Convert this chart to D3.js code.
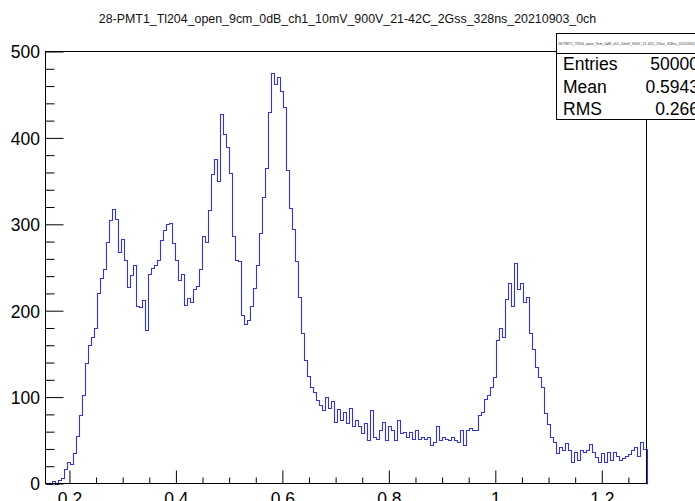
<!DOCTYPE html>
<html>
<head>
<meta charset="utf-8">
<script src="https://cdn.jsdelivr.net/npm/d3@7"></script>
<style>
  body { margin: 0; background: #fff; }
  svg { display: block; font-family: "Liberation Sans", Arial, sans-serif; }
</style>
</head>
<body>
<svg width="695" height="501"></svg>
<script>
const title = "28-PMT1_Tl204_open_9cm_0dB_ch1_10mV_900V_21-42C_2Gss_328ns_20210903_0ch";

// histogram: 200 equal bins between xRange[0] and xRange[1]
const xRange = [0.155, 1.284];
const counts = [
  0, 0, 3, 0, 4, 6, 17, 25, 23, 35,
  55, 79, 102, 139, 160, 170, 180, 220, 238, 248,
  280, 305, 318, 306, 268, 283, 259, 228, 241, 253,
  206, 204, 212, 178, 243, 249, 253, 259, 282, 293,
  300, 301, 278, 259, 236, 243, 207, 215, 210, 225,
  229, 248, 286, 280, 317, 358, 376, 350, 428, 405,
  390, 359, 286, 259, 257, 195, 185, 189, 205, 226,
  253, 290, 332, 365, 430, 475, 462, 470, 454, 436,
  363, 319, 295, 257, 216, 174, 143, 125, 112, 106,
  97, 91, 85, 100, 87, 96, 71, 86, 73, 83,
  70, 87, 67, 73, 67, 58, 70, 50, 85, 54,
  52, 62, 71, 50, 67, 62, 50, 73, 58, 60,
  54, 60, 52, 62, 52, 54, 52, 54, 44, 48,
  66, 50, 54, 52, 50, 54, 50, 48, 62, 44,
  62, 64, 62, 62, 79, 83, 98, 103, 112, 123,
  166, 180, 169, 214, 232, 205, 255, 225, 232, 210,
  216, 174, 156, 135, 123, 112, 82, 69, 54, 48,
  35, 42, 39, 47, 39, 25, 37, 27, 39, 37,
  39, 46, 37, 31, 25, 35, 25, 37, 27, 36,
  32, 27, 29, 32, 34, 39, 42, 32, 48, 40
];

const yMax = 500;
const xMajorTicks = [0.2, 0.4, 0.6, 0.8, 1.0, 1.2];
const xTickLabels = ["0.2", "0.4", "0.6", "0.8", "1", "1.2"];
const yMajorTicks = [0, 100, 200, 300, 400, 500];
const yTickLabels = ["0", "100", "200", "300", "400", "500"];

const statNames = ["Entries", "Mean", "RMS"];
const statValues = ["50000", "0.5943", "0.266"];

const svg = d3.select("svg");
const frame = { left: 45.5, right: 646.5, top: 51.5, bottom: 483.5 };

const x = d3.scaleLinear().domain(xRange).range([frame.left, frame.right]);
const y = d3.scaleLinear().domain([0, yMax]).range([frame.bottom, frame.top]);

// title
svg.append("text")
  .attr("x", 347.5)
  .attr("y", 23)
  .attr("text-anchor", "middle")
  .attr("font-size", 12.4)
  .attr("fill", "#111")
  .text(title);

// histogram outline
const binWidth = (xRange[1] - xRange[0]) / counts.length;
const pts = [[xRange[0], 0]];
counts.forEach((c, i) => pts.push([xRange[0] + i * binWidth, c]));
pts.push([xRange[1], counts[counts.length - 1]]);
pts.push([xRange[1], 0]);

const line = d3.line()
  .x((d) => Math.round(x(d[0])) + 0.5)
  .y((d) => Math.round(y(d[1])) + 0.5)
  .curve(d3.curveStepAfter);

svg.append("path")
  .attr("d", line(pts))
  .attr("fill", "none")
  .attr("stroke", "#3535c8")
  .attr("stroke-width", 1.1);

// axes: ticks point inward like ROOT
const xMinor = d3.range(0.2, 1.2501, 0.05).filter((v) => !xMajorTicks.some((m) => Math.abs(m - v) < 1e-6));
const yMinor = d3.range(0, 501, 20).filter((v) => v % 100 !== 0);

const gx = svg.append("g").attr("transform", `translate(0,${frame.bottom})`);
gx.append("g").call(d3.axisBottom(x).tickValues(xMinor).tickSize(-6).tickFormat(""));
gx.append("g").call(
  d3.axisBottom(x).tickValues(xMajorTicks).tickSize(-13).tickPadding(21)
    .tickFormat((d, i) => xTickLabels[i])
);

const gy = svg.append("g").attr("transform", `translate(${frame.left},0)`);
gy.append("g").call(d3.axisLeft(y).tickValues(yMinor).tickSize(-9).tickFormat(""));
gy.append("g").call(
  d3.axisLeft(y).tickValues(yMajorTicks).tickSize(-18).tickPadding(5.5)
    .tickFormat((d, i) => yTickLabels[i])
);

svg.selectAll(".domain").remove();
svg.selectAll(".tick line").attr("stroke", "#000");
svg.selectAll(".tick text")
  .attr("font-size", 17.5)
  .attr("font-family", "Liberation Sans, Arial, sans-serif")
  .attr("fill", "#000");
gy.selectAll(".tick text").attr("dy", "0.36em");
gx.selectAll(".tick text").attr("dy", "0em").attr("y", 21);

// frame
svg.append("rect")
  .attr("x", frame.left)
  .attr("y", frame.top)
  .attr("width", frame.right - frame.left)
  .attr("height", frame.bottom - frame.top)
  .attr("fill", "none")
  .attr("stroke", "#000");

// stats box
const stats = svg.append("g");
stats.append("rect")
  .attr("x", 556.5).attr("y", 33.5)
  .attr("width", 150).attr("height", 86)
  .attr("fill", "#fff").attr("stroke", "#000");
stats.append("line")
  .attr("x1", 556.5).attr("x2", 700)
  .attr("y1", 53.5).attr("y2", 53.5)
  .attr("stroke", "#000");
stats.append("text")
  .attr("x", 558).attr("y", 45)
  .attr("font-size", 3.6)
  .attr("fill", "#333")
  .text(title);

statNames.forEach((name, i) => {
  const by = 70 + i * 22.6;
  stats.append("text")
    .attr("x", 563).attr("y", by)
    .attr("font-size", 17.5)
    .text(name);
  stats.append("text")
    .attr("x", 699).attr("y", by)
    .attr("text-anchor", "end")
    .attr("font-size", 17.5)
    .text(statValues[i]);
});
</script>
</body>
</html>
